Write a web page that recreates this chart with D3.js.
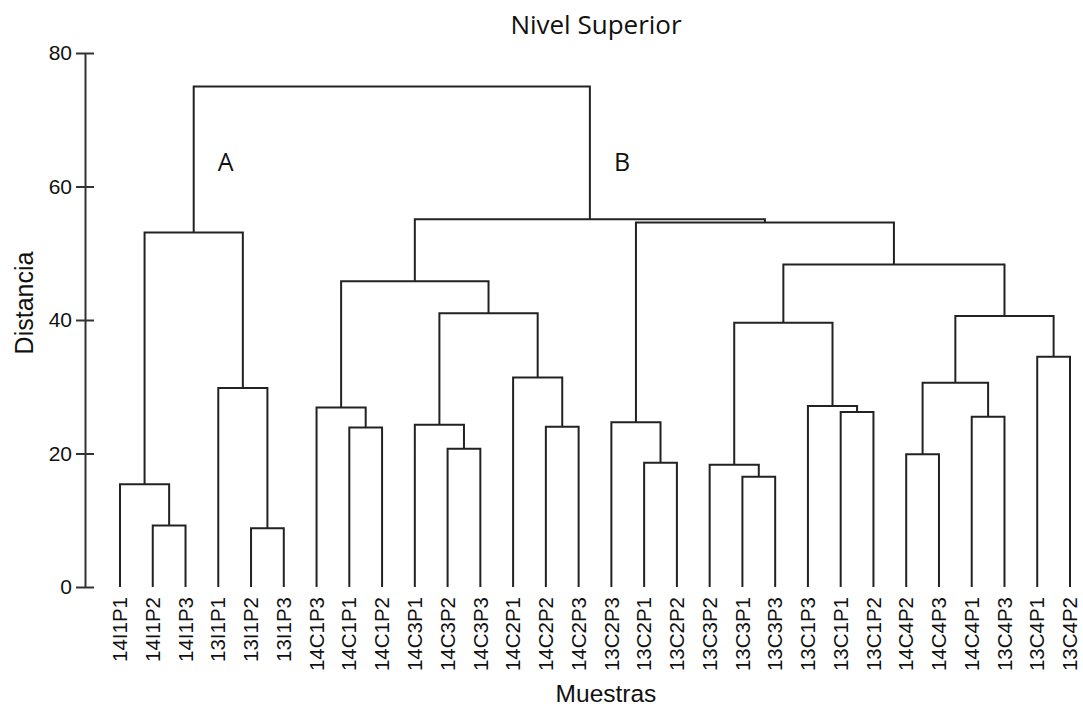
<!DOCTYPE html>
<html>
<head>
<meta charset="utf-8">
<script src="https://cdn.jsdelivr.net/npm/d3@7"></script>
<style>
  body { margin: 0; background: #fff; }
</style>
</head>
<body>
<div id="chart"></div>
<script>
(function () {
    'use strict';
    var w = 1083;
    var h = 710;

    // leaf order as drawn, left to right
    var leaves = [
        "14I1P1", "14I1P2", "14I1P3", "13I1P1", "13I1P2", "13I1P3",
        "14C1P3", "14C1P1", "14C1P2", "14C3P1", "14C3P2", "14C3P3",
        "14C2P1", "14C2P2", "14C2P3", "13C2P3", "13C2P1", "13C2P2",
        "13C3P2", "13C3P1", "13C3P3", "13C1P3", "13C1P1", "13C1P2",
        "14C4P2", "14C4P3", "14C4P1", "13C4P3", "13C4P1", "13C4P2"
    ];

    // merges, hclust style: negative = leaf (1-based), positive = earlier merge
    var mergeLeft  = [-2, -1, -5, -4, 2, -8, -7, -11, -10, -14, -13, 9, 7,
                      -17, -16, -20, -19, -23, -22, 17, -25, -27, 21, -29, 23, 20, 15, 13, 5];
    var mergeRight = [-3, 1, -6, 3, 4, -9, 6, -12, 8, -15, 10, 11, 12,
                      -18, 14, -21, 16, -24, 18, 19, -26, -28, 22, -30, 24, 25, 26, 27, 28];
    var mergeHeight = [9.2, 15.4, 8.8, 29.8, 53.1, 23.9, 26.9, 20.7, 24.3, 24.0, 31.4, 41.0, 45.8,
                       18.6, 24.7, 16.5, 18.3, 26.2, 27.1, 39.6, 19.9, 25.5, 30.6, 34.5, 40.6, 48.3, 54.6, 55.1, 75.0];

    var yTicks = [0, 20, 40, 60, 80];

    // letters for the two main groups (children of the root)
    var groupNames = ["A", "B"];

    function node(id) {
        if (id < 0) {
            return { name: leaves[-id - 1], height: 0 };
        }
        var i = id - 1;
        return {
            name: "m" + id,
            height: mergeHeight[i],
            children: [node(mergeLeft[i]), node(mergeRight[i])]
        };
    }

    var root = d3.hierarchy(node(mergeHeight.length));

    var x = d3.scalePoint()
        .domain(leaves)
        .range([120, 1070]);

    var y = d3.scaleLinear()
        .domain([0, 80])
        .range([587, 53]);

    // leaves get their slot, parents sit midway between children
    root.eachAfter(function (d) {
        if (!d.children) {
            d.px = x(d.data.name);
        } else {
            d.px = (d.children[0].px + d.children[1].px) / 2;
        }
    });

    var svg = d3.select("#chart")
        .append("svg")
        .attr("width", w)
        .attr("height", h)
        .style("font-family", "Liberation Sans, Arial, sans-serif");

    // dendrogram brackets
    svg.append("g")
        .selectAll("path")
        .data(root.descendants().filter(function (d) { return d.children; }))
        .enter()
        .append("path")
        .attr("d", function (d) {
            var a = d.children[0], b = d.children[1];
            return "M" + a.px + "," + y(a.data.height) +
                "V" + y(d.data.height) +
                "H" + b.px +
                "V" + y(b.data.height);
        })
        .attr("fill", "none")
        .attr("stroke", "#222")
        .attr("stroke-width", 2);

    // y axis, ticks cross the line
    var yAxis = svg.append("g")
        .attr("transform", "translate(85,0)")
        .call(d3.axisLeft(y).tickValues(yTicks).tickSize(9).tickSizeOuter(0).tickPadding(4));
    yAxis.select(".domain").attr("stroke", "#333").attr("stroke-width", 2);
    yAxis.selectAll(".tick line").attr("x1", 9).attr("stroke", "#333").attr("stroke-width", 2);
    yAxis.selectAll(".tick text")
        .attr("font-size", "21px")
        .attr("font-family", "Liberation Sans, Arial, sans-serif")
        .attr("fill", "#111");

    // leaf labels
    svg.append("g")
        .selectAll("text")
        .data(leaves)
        .enter()
        .append("text")
        .text(function (d) { return d; })
        .attr("transform", function (d) { return "translate(" + x(d) + ",597) rotate(-90)"; })
        .attr("dy", "0.35em")
        .attr("text-anchor", "end")
        .attr("font-size", "20.5px")
        .attr("fill", "#111");

    // group letters next to the root's children
    svg.append("g")
        .selectAll("text")
        .data(root.children)
        .enter()
        .append("text")
        .text(function (d, i) { return groupNames[i]; })
        .attr("x", function (d) { return d.px + 24; })
        .attr("y", 171)
        .attr("font-family", "Open Sans, sans-serif")
        .attr("font-size", "25px")
        .attr("fill", "#111");

    svg.append("text")
        .text("Nivel Superior")
        .attr("x", 596)
        .attr("y", 34)
        .attr("text-anchor", "middle")
        .attr("font-family", "Open Sans, sans-serif")
        .attr("font-size", "26px")
        .attr("fill", "#111");

    svg.append("text")
        .text("Muestras")
        .attr("x", 606)
        .attr("y", 702)
        .attr("text-anchor", "middle")
        .attr("font-size", "24.5px")
        .attr("fill", "#111");

    svg.append("text")
        .text("Distancia")
        .attr("transform", "translate(33,303) rotate(-90)")
        .attr("text-anchor", "middle")
        .attr("font-size", "25px")
        .attr("fill", "#111");
}());
</script>
</body>
</html>
